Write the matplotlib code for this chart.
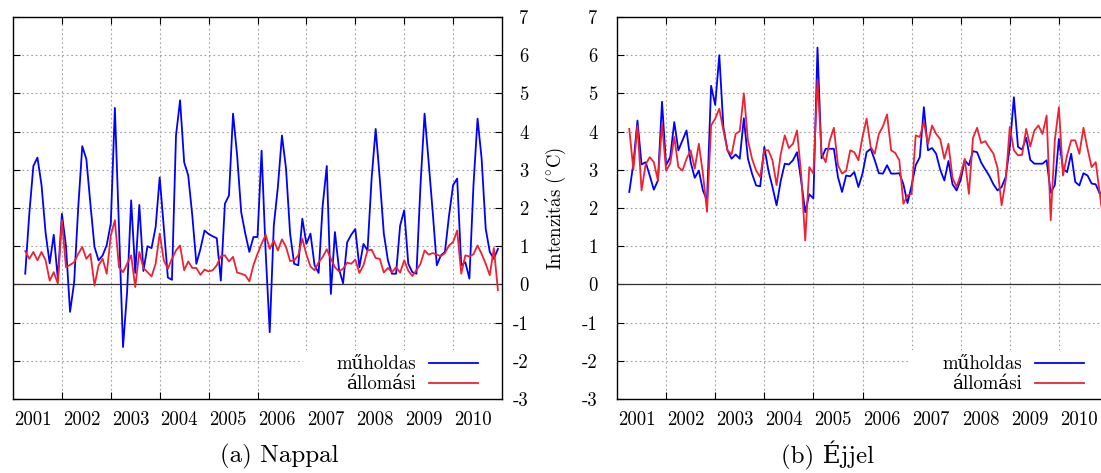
import matplotlib.pyplot as plt
from matplotlib.patches import Rectangle
import numpy as np

years = list(range(2001, 2011))

# havi átlagok, 2001 április - 2010 december
nap_muholdas = [0.28, 1.85, 3.1, 3.32, 2.6, 1.35, 0.55, 1.3, 0.15,
                1.85, 1.0, -0.72, 0.05, 2.0, 3.62, 3.28, 2.1, 0.98, 0.63, 0.76, 1.03,
                1.6, 4.62, 1.5, -1.64, -0.2, 2.2, 0.3, 2.08, 0.35, 1.0, 0.95, 1.5,
                2.8, 1.5, 0.18, 0.12, 3.9, 4.82, 3.2, 2.85, 1.8, 0.54, 0.93, 1.41,
                1.32, 1.26, 1.21, 0.1, 2.11, 2.33, 4.47, 3.38, 1.89, 1.33, 0.85, 1.24,
                1.24, 3.5, 0.85, -1.25, 1.54, 2.55, 3.9, 3.03, 1.33, 0.54, 0.5, 1.72,
                1.06, 1.33, 0.5, 0.3, 2.07, 3.1, -0.25, 1.37, 0.4, 0.03, 1.1, 1.3,
                1.45, 0.45, 1.06, 0.89, 2.77, 4.07, 2.77, 1.33, 0.63, 0.28, 0.28, 1.54,
                1.94, 0.54, 0.32, 0.28, 2.6, 4.47, 3.2, 1.89, 0.5, 0.76, 0.85, 1.8,
                2.6, 2.77, 0.5, 0.58, 0.15, 2.6, 4.34, 3.29, 1.46, 0.85, 0.67, 0.93]
nap_allomasi = [0.87, 0.67, 0.85, 0.63, 0.85, 0.63, 0.1, 0.32, 0.02,
                1.68, 0.45, 0.51, 0.58, 0.8, 0.98, 0.67, 0.8, -0.03, 0.5, 0.67, 0.28,
                1.28, 1.68, 0.45, 0.32, 0.54, 0.76, -0.07, 0.85, 0.43, 0.32, 0.21, 0.54,
                1.33, 0.63, 0.41, 0.67, 0.89, 1.02, 0.37, 0.6, 0.43, 0.43, 0.25, 0.39,
                0.34, 0.37, 0.5, 0.74, 0.76, 0.6, 0.72, 0.31, 0.28, 0.24, 0.08, 0.5,
                0.8, 1.06, 1.3, 0.93, 1.15, 0.89, 1.18, 0.98, 0.61, 0.63, 0.76, 1.2,
                0.78, 0.47, 0.37, 0.58, 0.72, 0.92, 0.67, 0.45, 0.34, 0.41, 0.57, 0.54,
                0.65, 0.3, 0.5, 0.89, 0.91, 0.69, 0.67, 0.31, 0.43, 0.32, 0.45, 0.31,
                0.63, 0.36, 0.22, 0.37, 0.54, 0.89, 0.78, 0.82, 0.78, 0.74, 0.82, 1.02,
                1.11, 1.41, 0.28, 0.76, 0.73, 0.79, 1.02, 0.8, 0.54, 0.24, 0.95, -0.15]
ejjel_muholdas = [2.42, 3.16, 4.29, 3.14, 3.2, 2.85, 2.48, 2.72, 4.78,
                  3.12, 3.33, 4.25, 3.51, 3.77, 4.03, 3.2, 2.79, 2.98, 2.46, 2.2, 5.2,
                  4.7, 6.0, 4.12, 3.51, 3.29, 3.4, 3.29, 4.35, 3.29, 2.9, 2.59, 2.57,
                  3.6, 2.98, 2.55, 2.07, 2.7, 3.16, 3.14, 3.25, 3.46, 2.72, 1.89, 2.36,
                  2.25, 6.2, 3.3, 3.55, 3.55, 3.55, 2.81, 2.42, 2.85, 2.83, 2.94, 2.55,
                  2.9, 3.46, 3.55, 3.25, 2.91, 2.9, 3.12, 2.9, 2.9, 2.91, 2.62, 2.13,
                  2.59, 3.12, 3.33, 4.64, 3.51, 3.57, 3.42, 3.0, 2.72, 3.23, 2.62, 2.46,
                  2.74, 3.25, 3.12, 3.49, 3.46, 3.19, 3.01, 2.84, 2.62, 2.46, 2.55, 2.81,
                  3.6, 4.9, 3.6, 3.53, 3.84, 3.26, 3.16, 3.16, 3.16, 3.25, 2.4, 2.6,
                  3.81, 3.03, 2.94, 3.42, 2.68, 2.59, 2.91, 2.85, 2.64, 2.62, 2.37, 2.5]
ejjel_allomasi = [4.07, 3.0, 4.15, 2.46, 3.14, 3.33, 3.2, 2.72, 4.2,
                  2.98, 3.16, 3.86, 3.07, 2.98, 3.29, 3.51, 3.03, 3.68, 2.9, 1.9, 4.16,
                  4.34, 4.6, 4.03, 3.51, 3.4, 3.94, 4.01, 5.0, 3.77, 3.29, 2.98, 2.81,
                  3.51, 3.51, 3.25, 2.6, 3.4, 3.9, 3.57, 3.68, 4.03, 2.9, 1.15, 3.07,
                  2.9, 5.35, 3.42, 3.2, 3.77, 4.1, 3.12, 2.9, 2.97, 3.51, 3.46, 3.25,
                  3.86, 4.34, 3.6, 3.42, 3.94, 4.14, 4.45, 3.51, 3.44, 3.25, 2.11, 2.33,
                  2.37, 3.9, 3.86, 4.25, 3.68, 4.16, 3.94, 3.8, 3.29, 3.68, 2.79, 2.55,
                  2.88, 3.29, 2.37, 3.83, 4.1, 3.7, 3.75, 3.58, 3.42, 3.05, 2.07, 2.72,
                  4.12, 3.51, 3.38, 3.39, 4.07, 3.61, 4.03, 4.16, 3.94, 4.42, 1.68, 3.77,
                  4.64, 2.85, 3.38, 3.77, 3.77, 3.42, 4.1, 3.55, 3.07, 3.2, 2.37, 1.55]

t = 2001.25 + np.arange(len(nap_muholdas)) / 12

plt.rcParams['font.family'] = ['cmr10', 'DejaVu Serif']
plt.rcParams['mathtext.fontset'] = 'cm'
plt.rcParams['font.size'] = 13.5

W, H = 1101, 473
fig = plt.figure(figsize=(W / 100, H / 100), dpi=100)
ax1 = fig.add_axes([13 / W, 74 / H, 489 / W, 382 / H])
ax2 = fig.add_axes([617 / W, 74 / H, 491 / W, 382 / H])


def panel(ax, mh, al, label_side):
    ax.set_axisbelow(True)
    ax.plot(t, mh, color='#0000ff', lw=1.3, label='műholdas', zorder=3)
    ax.plot(t, al, color='#ee2233', lw=1.3, label='állomási', zorder=4)
    ax.axhline(0, color='#333333', lw=0.9, zorder=2)

    ax.set_xlim(2001, 2011)
    ax.set_ylim(-3, 7)
    ax.set_xticks(range(2002, 2011))
    ax.set_xticklabels([])
    ax.set_xticks([y + 0.4 for y in years], minor=True)
    ax.set_xticklabels([str(y) for y in years], minor=True)
    ax.tick_params(axis='x', which='major', direction='in', length=5, top=True)
    ax.tick_params(axis='x', which='minor', length=0, pad=9)

    ax.set_yticks(range(-3, 8))
    ax.set_yticklabels([str(v) for v in range(-3, 8)])
    if label_side == 'right':
        ax.tick_params(axis='y', direction='in', length=5, left=True, right=True,
                       labelleft=False, labelright=True, pad=19)
        for tk in ax.yaxis.get_major_ticks():
            tk.label2.set_horizontalalignment('right')
    else:
        ax.tick_params(axis='y', direction='in', length=5, left=True, right=True,
                       labelleft=True, labelright=False, pad=14)

    ax.grid(True, which='major', linestyle=(0, (1.5, 2.5)), color='#a0a0a0', lw=0.8)
    for s in ax.spines.values():
        s.set_linewidth(1.0)

    # fehér háttér a jelmagyarázat alatt
    ax.add_patch(Rectangle((0.593, 0), 0.407, 0.128, transform=ax.transAxes,
                           facecolor='white', edgecolor='none', zorder=1))
    ax.legend(loc='lower right', bbox_to_anchor=(0.951, 0.015), frameon=False,
              markerfirst=False, handlelength=2.6, handletextpad=0.7,
              labelspacing=0.1, borderpad=0, borderaxespad=0)


panel(ax1, nap_muholdas, nap_allomasi, 'right')
panel(ax2, ejjel_muholdas, ejjel_allomasi, 'left')

ax2.set_ylabel(r'$\mathrm{Intenzit\acute{a}s\ (^{\circ}C)}$')
ax2.yaxis.set_label_coords(-0.1, 0.5)

fig.text(0.254, 0.036, '(a) Nappal', ha='center', va='center', fontsize=18)
fig.text(0.752, 0.036, '(b) Éjjel', ha='center', va='center', fontsize=18)

fig.savefig('out.png', dpi=100)
